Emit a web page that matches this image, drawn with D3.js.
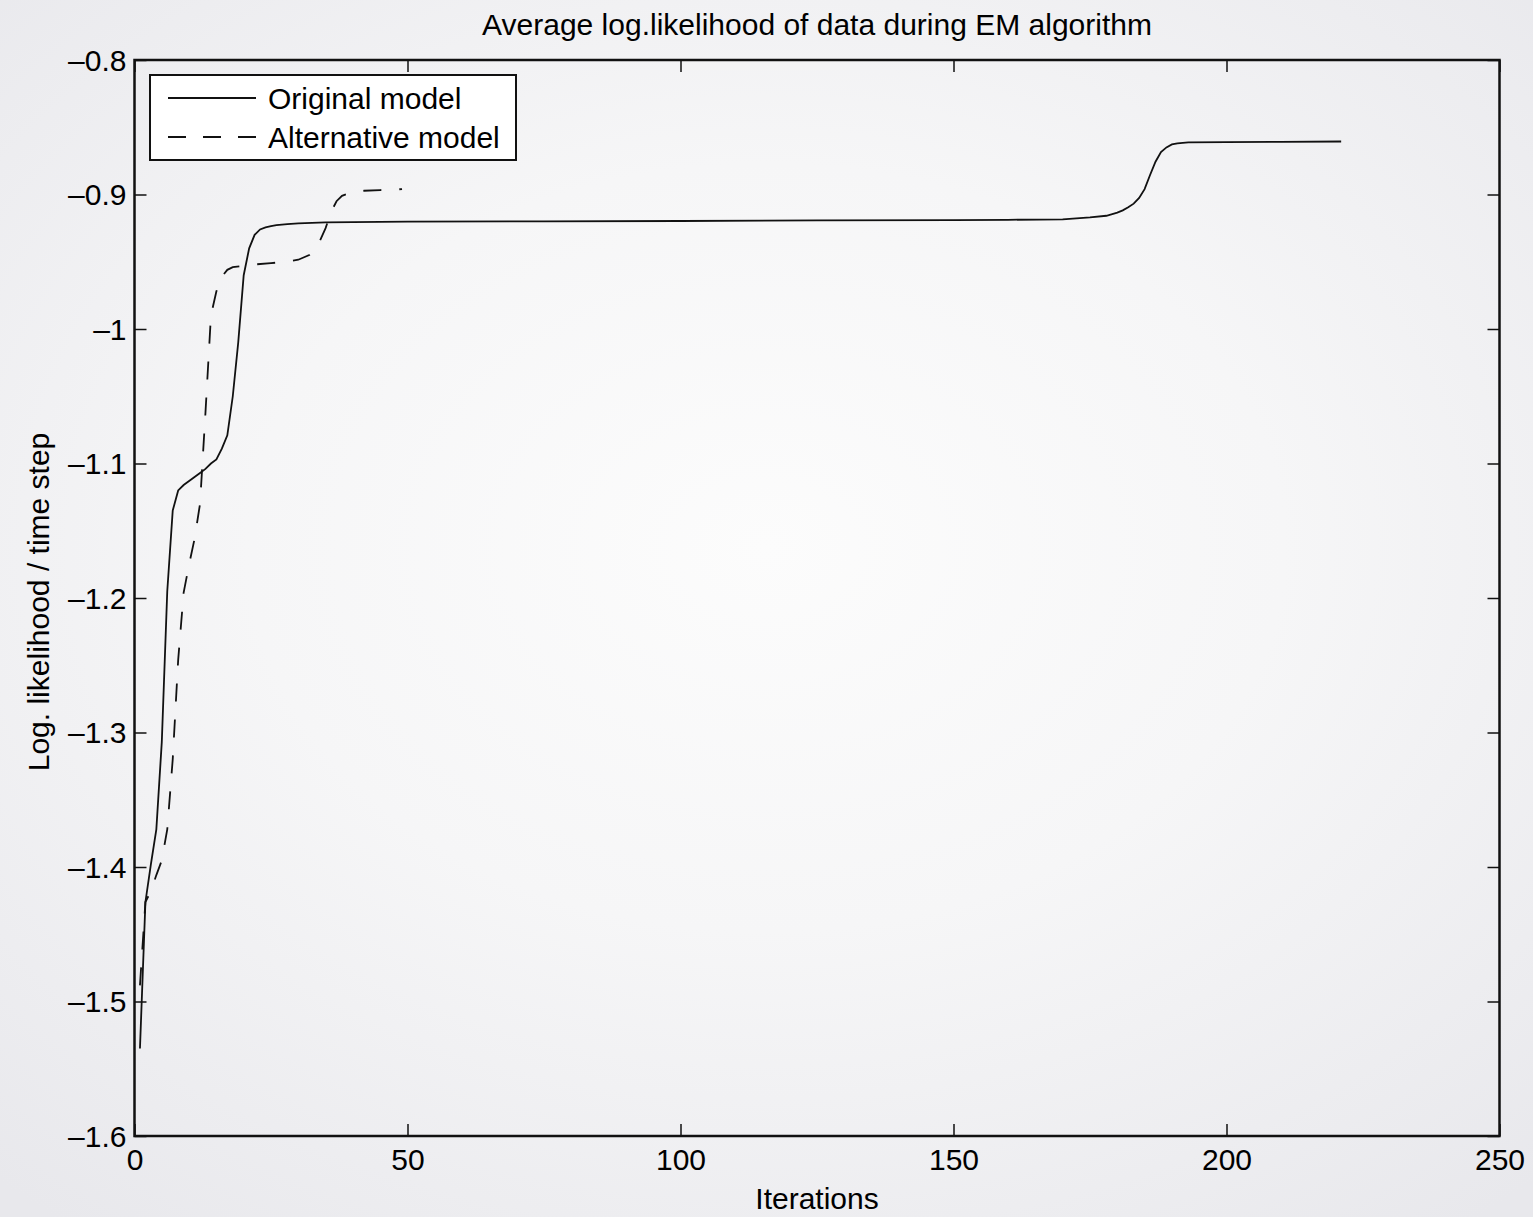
<!DOCTYPE html>
<html>
<head>
<meta charset="utf-8">
<script src="https://cdn.jsdelivr.net/npm/d3@7"></script>
<style>
  html, body { margin: 0; padding: 0; }
  body {
    width: 1533px; height: 1217px; overflow: hidden;
    background: radial-gradient(ellipse 75% 70% at 50% 45%, #fcfcfc 0%, #f6f6f7 45%, #e8e8ec 100%);
    font-family: "Liberation Sans", Arial, Helvetica, sans-serif;
  }
  #wrapper svg text { fill: #000; }
</style>
</head>
<body>
<div id="wrapper"></div>
<script>
// STEP 1: DATA

// original model: iteration -> avg log likelihood
const origIter = [1, 2, 3, 4, 5, 6, 7, 8, 9, 10, 11, 12, 13, 14, 15, 16, 17, 18, 19, 20,
  21, 22, 23, 24, 25, 26, 28, 30, 35, 50, 75, 100, 125, 150, 160, 170, 175, 178, 180,
  181, 182, 183, 184, 185, 186, 187, 188, 189, 190, 191, 193, 200, 210, 221];
const origLL = [-1.535, -1.426, -1.398, -1.372, -1.307, -1.195, -1.135, -1.12, -1.116, -1.113,
  -1.110, -1.107, -1.104, -1.100, -1.097, -1.089, -1.079, -1.05, -1.01, -0.96,
  -0.94, -0.93, -0.926, -0.9245, -0.9235, -0.9228, -0.922, -0.9215, -0.9207, -0.9202,
  -0.92, -0.9197, -0.9193, -0.919, -0.9188, -0.9185, -0.917, -0.9158, -0.9135,
  -0.9118, -0.9095, -0.9068, -0.9025, -0.896, -0.8855, -0.8756, -0.8685, -0.865, -0.8628,
  -0.862, -0.8613, -0.861, -0.8608, -0.8606];

// alternative model
const altIter = [1, 2, 3, 4, 5, 6, 7, 8, 9, 10, 11, 12, 13, 14, 15, 16, 17, 18, 20, 22,
  25, 28, 30, 32, 33, 34, 35, 36, 37, 38, 40, 42, 45, 49];
const altLL = [-1.488, -1.426, -1.418, -1.406, -1.395, -1.372, -1.32, -1.246, -1.196, -1.175,
  -1.156, -1.13, -1.062, -0.99, -0.972, -0.961, -0.956, -0.954, -0.953, -0.952,
  -0.951, -0.950, -0.9485, -0.945, -0.941, -0.934, -0.925, -0.913, -0.905, -0.901,
  -0.898, -0.8972, -0.8967, -0.896];

const seriesNames = ["Original model", "Alternative model"];

const xTicks = [0, 50, 100, 150, 200, 250];
const xTickLabels = ["0", "50", "100", "150", "200", "250"];
const yTicks = [-1.6, -1.5, -1.4, -1.3, -1.2, -1.1, -1, -0.9, -0.8];
const yTickLabels = ["\u20131.6", "\u20131.5", "\u20131.4", "\u20131.3", "\u20131.2", "\u20131.1", "\u20131", "\u20130.9", "\u20130.8"];

const titleText = "Average log.likelihood of data during EM algorithm";
const xLabelText = "Iterations";
const yLabelText = "Log. likelihood / time step";

// STEP 2: DIMENSIONS

let dimensions = {
  width: 1533,
  height: 1217,
  margin: { top: 60, right: 33.5, bottom: 81, left: 134.5 },
};
dimensions.boundedWidth = dimensions.width - dimensions.margin.left - dimensions.margin.right;
dimensions.boundedHeight = dimensions.height - dimensions.margin.top - dimensions.margin.bottom;

const svg = d3.select("#wrapper")
  .append("svg")
  .attr("width", dimensions.width)
  .attr("height", dimensions.height)
  .style("display", "block");

const bounds = svg.append("g")
  .attr("transform", `translate(${dimensions.margin.left},${dimensions.margin.top})`);

// STEP 3: SCALES

const xScale = d3.scaleLinear().domain([0, 250]).range([0, dimensions.boundedWidth]);
const yScale = d3.scaleLinear().domain([-1.6, -0.8]).range([dimensions.boundedHeight, 0]);

// STEP 4: LINES

const toPoints = (xs, ys) => xs.map((x, i) => ({ x, y: ys[i] }));
const lineGenerator = d3.line()
  .x(d => xScale(d.x))
  .y(d => yScale(d.y));

bounds.append("path")
  .attr("d", lineGenerator(toPoints(altIter, altLL)))
  .attr("fill", "none")
  .attr("stroke", "#111")
  .attr("stroke-width", 1.8)
  .attr("stroke-dasharray", "18,18");

bounds.append("path")
  .attr("d", lineGenerator(toPoints(origIter, origLL)))
  .attr("fill", "none")
  .attr("stroke", "#111")
  .attr("stroke-width", 1.8);

// STEP 5: AXES (inward ticks on all four sides, matlab-style box)

const tickLen = 12;
const fontSize = 30;
const fontFamily = "'Liberation Sans', Arial, Helvetica, sans-serif";

const yAxis = bounds.append("g")
  .call(d3.axisLeft(yScale).tickValues(yTicks)
    .tickFormat((d, i) => yTickLabels[i])
    .tickSizeInner(-tickLen).tickSizeOuter(0).tickPadding(8));

const xAxis = bounds.append("g")
  .attr("transform", `translate(0,${dimensions.boundedHeight})`)
  .call(d3.axisBottom(xScale).tickValues(xTicks)
    .tickFormat((d, i) => xTickLabels[i])
    .tickSizeInner(-tickLen).tickSizeOuter(0).tickPadding(13));

const yAxisRight = bounds.append("g")
  .attr("transform", `translate(${dimensions.boundedWidth},0)`)
  .call(d3.axisRight(yScale).tickValues(yTicks).tickFormat("")
    .tickSizeInner(-tickLen).tickSizeOuter(0));

const xAxisTop = bounds.append("g")
  .call(d3.axisTop(xScale).tickValues(xTicks).tickFormat("")
    .tickSizeInner(-tickLen).tickSizeOuter(0));

[yAxis, xAxis, yAxisRight, xAxisTop].forEach(ax => {
  ax.select(".domain").remove();
  ax.selectAll(".tick line").attr("stroke", "#111").attr("stroke-width", 1.5);
  ax.selectAll("text")
    .style("font-family", fontFamily)
    .style("font-size", fontSize + "px");
});
yAxis.selectAll("text").attr("dy", "0.34em");

// box
bounds.append("rect")
  .attr("x", 0).attr("y", 0)
  .attr("width", dimensions.boundedWidth)
  .attr("height", dimensions.boundedHeight)
  .attr("fill", "none")
  .attr("stroke", "#111")
  .attr("stroke-width", 2.5);

// STEP 6: LABELS

const textStyle = sel => sel
  .style("font-family", fontFamily)
  .style("font-size", fontSize + "px")
  .attr("text-anchor", "middle");

svg.append("text")
  .attr("x", dimensions.margin.left + dimensions.boundedWidth / 2)
  .attr("y", 35)
  .text(titleText)
  .call(textStyle);

svg.append("text")
  .attr("x", dimensions.margin.left + dimensions.boundedWidth / 2)
  .attr("y", 1209)
  .text(xLabelText)
  .call(textStyle);

svg.append("text")
  .attr("transform", `translate(49,${dimensions.margin.top + dimensions.boundedHeight / 2 + 4}) rotate(-90)`)
  .text(yLabelText)
  .call(textStyle);

// STEP 7: LEGEND

const legend = bounds.append("g").attr("transform", "translate(15.5,15)");
legend.append("rect")
  .attr("width", 366).attr("height", 85)
  .attr("fill", "#fff")
  .attr("stroke", "#111")
  .attr("stroke-width", 2);

const legendRows = legend.selectAll("g.row")
  .data(seriesNames)
  .join("g")
  .attr("class", "row")
  .attr("transform", (d, i) => `translate(0,${23 + i * 39})`);

legendRows.append("line")
  .attr("x1", 18).attr("x2", 106)
  .attr("stroke", "#111")
  .attr("stroke-width", 1.8)
  .attr("stroke-dasharray", (d, i) => i === 1 ? "18,17" : null);

legendRows.append("text")
  .attr("x", 118)
  .attr("dy", "0.36em")
  .style("font-family", fontFamily)
  .style("font-size", fontSize + "px")
  .text(d => d);
</script>
</body>
</html>
